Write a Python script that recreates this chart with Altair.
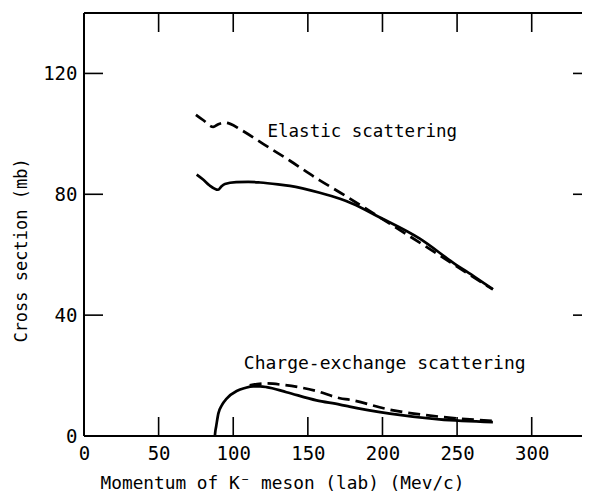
import altair as alt
import pandas as pd

# ---- data ----
el_dash_x = [75, 80, 86.6, 90, 94.4, 98, 105, 120, 138, 158, 171.5, 190, 198, 216, 236, 256, 274]
el_dash_y = [106.3, 104.5, 102.3, 103.2, 103.7, 103.3, 101.4, 96.7, 91.1, 84.6, 80.6, 74.9, 72.4, 66.8, 60.5, 54.1, 48.5]

el_solid_x = [75.5, 80, 84, 89.9, 92, 94.4, 102, 110, 118, 130, 138, 158, 171.5, 180, 198, 225, 247, 262, 274]
el_solid_y = [86.5, 84.8, 83.0, 81.5, 82.6, 83.4, 84.0, 84.1, 83.9, 83.3, 82.8, 80.5, 78.5, 76.9, 72.4, 65.3, 57.5, 52.6, 48.6]

ce_solid_x = [87.7, 88.0, 88.5, 90, 92.5, 95.6, 102.3, 108, 113.4, 118, 122.3, 135.7, 155.8, 171.5, 178, 205, 238, 274]
ce_solid_y = [0, 1.5, 3.0, 7.4, 10.3, 12.4, 14.9, 15.9, 16.4, 16.4, 16.2, 14.5, 11.8, 10.4, 9.7, 7.4, 5.5, 4.6]

ce_dash_x = [111, 116, 122.3, 133.5, 155.8, 171.5, 178, 205, 238, 274]
ce_dash_y = [16.8, 17.2, 17.4, 16.9, 14.9, 12.5, 12.0, 8.7, 6.4, 5.0]

x_ticks = [0, 50, 100, 150, 200, 250, 300]
x_inner_ticks = [50, 100, 150, 200, 250, 300]
y_ticks = [0, 40, 80, 120]
y_inner_ticks = [40, 80, 120]

labels = ["Elastic scattering", "Charge-exchange  scattering"]
label_x = [186.5, 201.5]
label_y = [98.8, 22.3]
label_size = [17.5, 18]

FONT = "DejaVu Sans Mono"
W, H = 498, 423
TICK = 19

xscale = alt.Scale(domain=[0, 333.7], nice=False, zero=False)
yscale = alt.Scale(domain=[0, 140], nice=False, zero=False)

def series(xs, ys, name):
    return pd.DataFrame({"x": xs, "y": ys, "s": name})

df_el_dash = series(el_dash_x, el_dash_y, "el_dash")
df_el_solid = series(el_solid_x, el_solid_y, "el_solid")
df_ce_dash = series(ce_dash_x, ce_dash_y, "ce_dash")
df_ce_solid = series(ce_solid_x, ce_solid_y, "ce_solid")

X = alt.X("x:Q", scale=xscale,
          axis=alt.Axis(values=x_ticks, title="Momentum of K\u207b meson (lab) (Mev/c)",
                        titleX=198, titleY=52, titleBaseline="alphabetic", titleAlign="center",
                        titleAnchor="start", titleFontSize=17.8, labelPadding=8,
                        labelFlush=False))
Y = alt.Y("y:Q", scale=yscale,
          axis=alt.Axis(values=y_ticks, title="Cross section (mb)",
                        titleX=-58, titleY=237, titleBaseline="alphabetic", titleAlign="center",
                        titleAngle=-90, titleAnchor="start", titleFontSize=17, labelPadding=7,
                        labelFlush=False))

def line(df, dashed):
    kw = dict(color="black", strokeWidth=2.7, interpolate="monotone")
    if dashed:
        kw["strokeDash"] = [12, 6]
    return alt.Chart(df).mark_line(**kw).encode(x=X, y=Y)

lines = [line(df_el_dash, True), line(df_el_solid, False),
         line(df_ce_dash, True), line(df_ce_solid, False)]

# frame (top, left, bottom); right side lies beyond the page edge
one = pd.DataFrame({"k": [0]})
frame_kw = dict(color="black", strokeWidth=2)
frame_top = alt.Chart(one).mark_rule(**frame_kw).encode(
    x=alt.value(0), x2=alt.value(W), y=alt.value(0))
frame_bot = alt.Chart(one).mark_rule(**frame_kw).encode(
    x=alt.value(0), x2=alt.value(W), y=alt.value(H))
frame_left = alt.Chart(one).mark_rule(**frame_kw).encode(
    x=alt.value(0), y=alt.value(0), y2=alt.value(H))

xt = pd.DataFrame({"x": x_inner_ticks})
yt = pd.DataFrame({"y": y_inner_ticks})
tick_kw = dict(color="black", strokeWidth=1.6)
top_ticks = alt.Chart(xt).mark_rule(**tick_kw).encode(
    x=alt.X("x:Q", scale=xscale), y=alt.value(0), y2=alt.value(TICK))
bot_ticks = alt.Chart(xt).mark_rule(**tick_kw).encode(
    x=alt.X("x:Q", scale=xscale), y=alt.value(H), y2=alt.value(H - TICK))
left_ticks = alt.Chart(yt).mark_rule(**tick_kw).encode(
    y=alt.Y("y:Q", scale=yscale), x=alt.value(0), x2=alt.value(TICK))
right_ticks = alt.Chart(yt).mark_rule(**tick_kw).encode(
    y=alt.Y("y:Q", scale=yscale), x=alt.value(W - 9), x2=alt.value(W))

lab = pd.DataFrame({"t": labels, "x": label_x, "y": label_y, "fs": label_size})
texts = alt.Chart(lab).mark_text(font=FONT, align="center",
                                 baseline="alphabetic", color="black").encode(
    x=alt.X("x:Q", scale=xscale), y=alt.Y("y:Q", scale=yscale), text="t:N",
    size=alt.Size("fs:Q", scale=None, legend=None))

chart = alt.layer(*lines, frame_top, frame_bot, frame_left,
                  top_ticks, bot_ticks, left_ticks, right_ticks, texts).properties(
    width=W, height=H,
    autosize=alt.AutoSizeParams(type="none"),
    padding={"left": 76, "top": 5, "right": 0, "bottom": 57},
    background="white",
).configure_view(strokeWidth=0).configure_axis(
    domain=False, ticks=False, grid=False,
    labelFont=FONT, labelFontSize=19, labelColor="black",
    titleFont=FONT, titleColor="black", titleFontWeight="normal",
)

chart.save("out.html", embed_options={"renderer": "svg", "actions": False})
